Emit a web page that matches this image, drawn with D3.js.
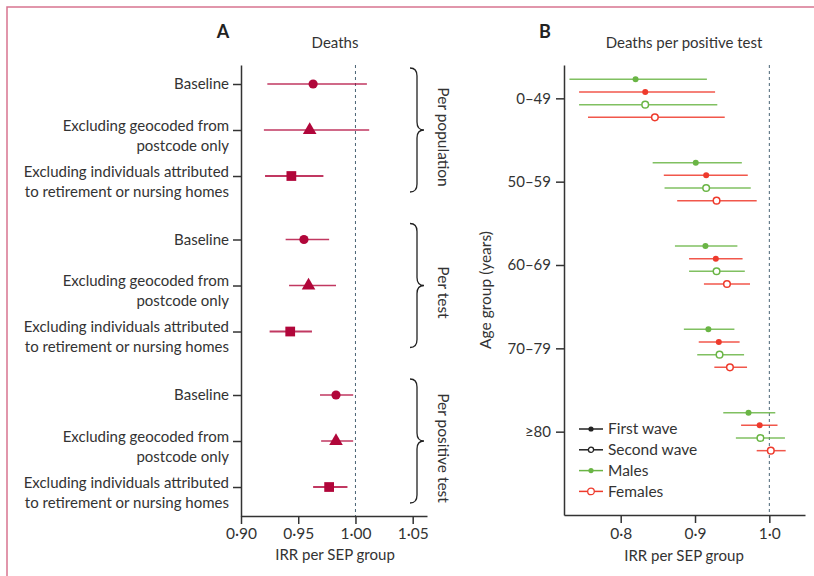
<!DOCTYPE html>
<html>
<head>
<meta charset="utf-8">
<script src="https://cdn.jsdelivr.net/npm/d3@7"></script>
<style>
  body { margin: 0; background: #fff; }
  svg { font-family: Lato, "Open Sans", sans-serif; }
</style>
</head>
<body>
<svg id="chart" width="814" height="576"></svg>
<script>
// Panel A data: one row per sensitivity analysis, three blocks of outcome
const groupsA = ['Per population', 'Per test', 'Per positive test'];
const rowLabelsA = [
    ['Baseline'],
    ['Excluding geocoded from', 'postcode only'],
    ['Excluding individuals attributed', 'to retirement or nursing homes']
];
const irrA  = [0.963, 0.960, 0.944, 0.955, 0.959, 0.943, 0.983, 0.983, 0.977];
const lowA  = [0.923, 0.920, 0.921, 0.939, 0.942, 0.925, 0.969, 0.970, 0.963];
const highA = [1.010, 1.012, 0.972, 0.977, 0.983, 0.962, 0.998, 0.998, 0.993];
const ticksA = [0.90, 0.95, 1.00, 1.05];

// Panel B data: [IRR, lower, upper] per age group
const ageGroups = ['0–49', '50–59', '60–69', '70–79', '≥80'];
const malesFirst    = [[0.820, 0.731, 0.916], [0.901, 0.843, 0.963], [0.914, 0.873, 0.957], [0.918, 0.885, 0.953], [0.972, 0.938, 1.008]];
const femalesFirst  = [[0.833, 0.744, 0.927], [0.915, 0.858, 0.971], [0.928, 0.892, 0.964], [0.932, 0.905, 0.960], [0.987, 0.962, 1.011]];
const malesSecond   = [[0.833, 0.744, 0.930], [0.915, 0.859, 0.975], [0.929, 0.892, 0.967], [0.933, 0.903, 0.966], [0.988, 0.955, 1.021]];
const femalesSecond = [[0.846, 0.756, 0.940], [0.929, 0.876, 0.983], [0.943, 0.912, 0.974], [0.947, 0.926, 0.970], [1.002, 0.983, 1.022]];
const ticksB = [0.8, 0.9, 1.0];
const legendB = ['First wave', 'Second wave', 'Males', 'Females'];

const textColor = '#333';
const crimson = '#b1063a';
const green = '#6ab545';
const red = '#ee3a2c';

const svg = d3.select('#chart');

// pink frame (top and left edges only)
svg.append('path')
    .attr('d', 'M7,576 L7,7 L814,7')
    .attr('fill', 'none')
    .attr('stroke', '#d77490')
    .attr('stroke-width', 1.5);

const fmt = (p) => (d) => d3.format('.' + p + 'f')(d).replace('.', '·');

function styleAxis(g, size) {
    g.attr('font-family', null).attr('font-size', size);
    g.selectAll('path, line').attr('stroke', textColor).attr('stroke-width', 1.5);
    g.selectAll('text').attr('fill', textColor);
}

/* ---------- Panel A ---------- */
const xA = d3.scaleLinear().domain([0.90, 1.0625]).range([241, 427]);
// row position: block * 3.38 + row, 46px per unit
const posA = irrA.map((d, i) => Math.floor(i / 3) * 3.38 + (i % 3));
const yA = d3.scaleLinear().domain([-0.413, 9.39]).range([65, 516]);

svg.append('text').attr('x', 223).attr('y', 38).attr('text-anchor', 'middle')
    .attr('font-size', 18).attr('font-weight', 'bold').attr('fill', '#222').text('A');
svg.append('text').attr('x', 335).attr('y', 48).attr('text-anchor', 'middle')
    .attr('font-size', 15).attr('fill', textColor).text('Deaths');

// reference line at 1
svg.append('line')
    .attr('x1', xA(1)).attr('x2', xA(1))
    .attr('y1', 65).attr('y2', 516)
    .attr('stroke', '#4a6475').attr('stroke-width', 1).attr('stroke-dasharray', '3,3');

const axisLeftA = svg.append('g')
    .attr('transform', 'translate(241,0)')
    .call(d3.axisLeft(yA).tickValues(posA).tickSize(8).tickSizeOuter(0).tickPadding(4).tickFormat(''));
styleAxis(axisLeftA, 15);
axisLeftA.selectAll('.tick text').each(function (d, i) {
    const lines = rowLabelsA[i % 3];
    const t = d3.select(this).text(null);
    if (lines.length === 1) {
        t.append('tspan').attr('x', -12).attr('dy', '0.32em').text(lines[0]);
    } else {
        t.attr('dy', null);
        t.append('tspan').attr('x', -12).attr('dy', 0).text(lines[0]);
        t.append('tspan').attr('x', -12).attr('dy', 20).text(lines[1]);
    }
});

const axisBottomA = svg.append('g')
    .attr('transform', 'translate(0,516)')
    .call(d3.axisBottom(xA).tickValues(ticksA).tickSize(8).tickSizeOuter(0).tickPadding(4).tickFormat(fmt(2)));
styleAxis(axisBottomA, 15.5);
svg.append('text').attr('x', 335).attr('y', 560).attr('text-anchor', 'middle')
    .attr('font-size', 15).attr('fill', textColor).text('IRR per SEP group');

// confidence intervals
svg.selectAll('.ciA')
    .data(irrA)
    .enter()
    .append('line')
    .attr('class', 'ciA')
    .attr('x1', (d, i) => xA(lowA[i]))
    .attr('x2', (d, i) => xA(highA[i]))
    .attr('y1', (d, i) => yA(posA[i]))
    .attr('y2', (d, i) => yA(posA[i]))
    .attr('stroke', crimson)
    .attr('stroke-opacity', 0.8)
    .attr('stroke-width', (d, i) => i % 3 === 2 ? 2 : 1.6);

const shapes = [d3.symbolCircle, d3.symbolTriangle, d3.symbolSquare];
const shapeSizes = [66, 80, 95];
svg.selectAll('.ptA')
    .data(irrA)
    .enter()
    .append('path')
    .attr('class', 'ptA')
    .attr('transform', (d, i) => `translate(${xA(d)},${yA(posA[i])})`)
    .attr('d', (d, i) => d3.symbol(shapes[i % 3], shapeSizes[i % 3])())
    .attr('fill', crimson);

// curly braces + block labels
function bracePath(x, y0, y1, w) {
    const ym = (y0 + y1) / 2, q = 8, xm = x + w / 2;
    return `M${x},${y0} Q${xm},${y0} ${xm},${y0 + q} L${xm},${ym - q} Q${xm},${ym} ${x + w},${ym}` +
        ` Q${xm},${ym} ${xm},${ym + q} L${xm},${y1 - q} Q${xm},${y1} ${x},${y1}`;
}
groupsA.forEach((g, k) => {
    const top = yA(posA[k * 3]) - 16;
    const bottom = yA(posA[k * 3 + 2]) + 16;
    svg.append('path')
        .attr('d', bracePath(410, top, bottom, 14))
        .attr('fill', 'none')
        .attr('stroke', '#222')
        .attr('stroke-width', 1.3);
    svg.append('text')
        .attr('transform', `translate(442,${(top + bottom) / 2 + 7}) rotate(90)`)
        .attr('text-anchor', 'middle')
        .attr('dominant-baseline', 'middle')
        .attr('font-size', 15.5)
        .attr('fill', textColor)
        .text(g);
});

/* ---------- Panel B ---------- */
const xB = d3.scaleLinear().domain([0.7237, 1.048]).range([564, 805]);
const yB = d3.scaleLinear().domain([-0.4, 5]).range([65, 515]);
const offsets = [-19, -6.3, 6.3, 19];

svg.append('text').attr('x', 545).attr('y', 38).attr('text-anchor', 'middle')
    .attr('font-size', 18).attr('font-weight', 'bold').attr('fill', '#222').text('B');
svg.append('text').attr('x', 684).attr('y', 48).attr('text-anchor', 'middle')
    .attr('font-size', 15).attr('fill', textColor).text('Deaths per positive test');

svg.append('line')
    .attr('x1', xB(1)).attr('x2', xB(1))
    .attr('y1', 65).attr('y2', 515)
    .attr('stroke', '#4a6475').attr('stroke-width', 1).attr('stroke-dasharray', '3,3');

const axisLeftB = svg.append('g')
    .attr('transform', 'translate(564,0)')
    .call(d3.axisLeft(yB).tickValues(d3.range(ageGroups.length)).tickSize(8).tickSizeOuter(0).tickPadding(5)
        .tickFormat((d) => ageGroups[d]));
styleAxis(axisLeftB, 15);

const axisBottomB = svg.append('g')
    .attr('transform', 'translate(0,515)')
    .call(d3.axisBottom(xB).tickValues(ticksB).tickSize(8).tickSizeOuter(0).tickPadding(5).tickFormat(fmt(1)));
styleAxis(axisBottomB, 15.5);

svg.append('text').attr('x', 684).attr('y', 561).attr('text-anchor', 'middle')
    .attr('font-size', 15).attr('fill', textColor).text('IRR per SEP group');
svg.append('text')
    .attr('transform', 'translate(491,290) rotate(-90)')
    .attr('text-anchor', 'middle')
    .attr('font-size', 15.5).attr('fill', textColor).text('Age group (years)');

const seriesB = [
    { data: malesFirst, color: green, open: false },
    { data: femalesFirst, color: red, open: false },
    { data: malesSecond, color: green, open: true },
    { data: femalesSecond, color: red, open: true }
];

seriesB.forEach((s, k) => {
    const g = svg.append('g');
    g.selectAll('line')
        .data(s.data)
        .enter()
        .append('line')
        .attr('x1', (d) => xB(d[1]))
        .attr('x2', (d) => xB(d[2]))
        .attr('y1', (d, i) => yB(i) + offsets[k])
        .attr('y2', (d, i) => yB(i) + offsets[k])
        .attr('stroke', s.color)
        .attr('stroke-opacity', 0.85)
        .attr('stroke-width', 1.5);
    g.selectAll('circle')
        .data(s.data)
        .enter()
        .append('circle')
        .attr('cx', (d) => xB(d[0]))
        .attr('cy', (d, i) => yB(i) + offsets[k])
        .attr('r', s.open ? 3.3 : 3)
        .attr('fill', s.open ? '#fff' : s.color)
        .attr('stroke', s.color)
        .attr('stroke-width', s.open ? 1.5 : 0);
});

// legend
const legendColors = ['#222', '#222', green, red];
const legendOpen = [false, true, false, true];
const legend = svg.append('g').attr('transform', 'translate(579,429)');
legendB.forEach((name, i) => {
    const row = legend.append('g').attr('transform', `translate(0,${i * 20.8})`);
    row.append('line').attr('x1', 0).attr('x2', 24)
        .attr('stroke', legendColors[i]).attr('stroke-width', 1.5);
    row.append('circle').attr('cx', 12).attr('r', i === 3 ? 3.3 : 2.6)
        .attr('fill', legendOpen[i] ? '#fff' : legendColors[i])
        .attr('stroke', legendColors[i]).attr('stroke-width', legendOpen[i] ? 1.3 : 0);
    row.append('text').attr('x', 29).attr('dy', '0.35em')
        .attr('font-size', 15.5).attr('fill', textColor).text(name);
});
</script>
</body>
</html>
